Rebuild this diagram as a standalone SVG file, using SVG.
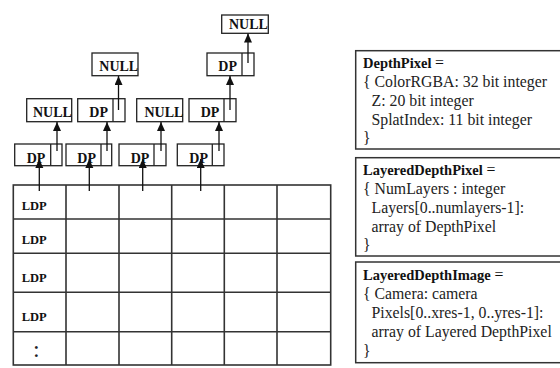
<svg xmlns="http://www.w3.org/2000/svg" width="560" height="368" viewBox="0 0 560 368">
  <style>
    .box { fill: #fff; stroke: #222; stroke-width: 1.3; }
    .div { stroke: #222; stroke-width: 1.3; }
    .lbl { font-family: "Liberation Serif", "Times New Roman", serif; font-weight: bold; font-size: 14px; fill: #111; }
    .grid { fill: none; stroke: #333; stroke-width: 1.6; }
    .ldp { font-family: "Liberation Serif", "Times New Roman", serif; font-weight: bold; font-size: 12.5px; fill: #111; }
    .conn { stroke: #111; stroke-width: 1.3; fill: none; marker-end: url(#head); }
    .panel { fill: #fff; stroke: #333; stroke-width: 1.5; }
    .title { font-family: "Liberation Serif", "Times New Roman", serif; font-weight: bold; font-size: 14.5px; fill: #111; }
    .body { font-family: "Liberation Serif", "Times New Roman", serif; font-size: 15.8px; fill: #222; }
  </style>
  <defs>
    <marker id="head" markerUnits="userSpaceOnUse" markerWidth="9" markerHeight="9" refX="9" refY="4" orient="auto">
      <path d="M0,0 L9,4 L0,8 Z" fill="#111"/>
    </marker>
  </defs>

  <rect width="560" height="368" fill="#fff"/>

  <!-- layered depth image grid -->
  <g id="ldi-grid">
    <rect class="grid" x="13.3" y="185" width="317.4" height="180"/>
    <path class="grid" d="M66,185V365 M119,185V365 M171.7,185V365 M224.3,185V365 M277,185V365
                          M13.3,219H330.7 M13.3,253.3H330.7 M13.3,292.3H330.7 M13.3,331.7H330.7"/>
    <text class="ldp" x="21.7" y="210">LDP</text>
    <text class="ldp" x="21.7" y="244">LDP</text>
    <text class="ldp" x="21.7" y="281.5">LDP</text>
    <text class="ldp" x="21.7" y="320.5">LDP</text>
    <text x="33" y="357" font-family="Liberation Serif, serif" font-size="24" fill="#222">:</text>
  </g>

  <!-- first layer of depth pixels -->
  <g id="dp-1a">
    <rect class="box" x="14.7" y="144" width="47.3" height="21.7"/>
    <line class="div" x1="50.7" y1="144" x2="50.7" y2="165.7"/>
    <text class="lbl" x="26.7" y="162.5">DP</text>
  </g>
  <g id="dp-1b">
    <rect class="box" x="66" y="144" width="45.7" height="21.7"/>
    <line class="div" x1="101" y1="144" x2="101" y2="165.7"/>
    <text class="lbl" x="77.3" y="162.5">DP</text>
  </g>
  <g id="dp-1c">
    <rect class="box" x="119" y="144" width="47" height="21.7"/>
    <line class="div" x1="154" y1="144" x2="154" y2="165.7"/>
    <text class="lbl" x="130.7" y="162.5">DP</text>
  </g>
  <g id="dp-1d">
    <rect class="box" x="177.3" y="144" width="46.7" height="21.7"/>
    <line class="div" x1="212.3" y1="144" x2="212.3" y2="165.7"/>
    <text class="lbl" x="189.3" y="162.5">DP</text>
  </g>

  <!-- second layer -->
  <g id="null-2a">
    <rect class="box" x="26.7" y="98.7" width="45" height="23"/>
    <text class="lbl" x="33" y="117">NULL</text>
  </g>
  <g id="dp-2b">
    <rect class="box" x="77.7" y="98.7" width="47.3" height="23"/>
    <line class="div" x1="113" y1="98.7" x2="113" y2="121.7"/>
    <text class="lbl" x="89.3" y="117">DP</text>
  </g>
  <g id="null-2c">
    <rect class="box" x="136.7" y="98.7" width="46" height="23"/>
    <text class="lbl" x="144.5" y="117">NULL</text>
  </g>
  <g id="dp-2d">
    <rect class="box" x="189" y="98.7" width="47" height="23"/>
    <line class="div" x1="224" y1="98.7" x2="224" y2="121.7"/>
    <text class="lbl" x="200.7" y="117">DP</text>
  </g>

  <!-- third layer -->
  <g id="null-3b">
    <rect class="box" x="92" y="53" width="46" height="22.7"/>
    <text class="lbl" x="99.3" y="71">NULL</text>
  </g>
  <g id="dp-3d">
    <rect class="box" x="207" y="53" width="47" height="22.7"/>
    <line class="div" x1="242" y1="53" x2="242" y2="75.7"/>
    <text class="lbl" x="218.3" y="71">DP</text>
  </g>

  <!-- fourth layer -->
  <g id="null-4d">
    <rect class="box" x="221.7" y="15" width="46.6" height="18.3"/>
    <text class="lbl" x="229" y="28.5">NULL</text>
  </g>

  <!-- pointers -->
  <g id="connectors">
    <line class="conn" x1="39.3" y1="191" x2="39.3" y2="159"/>
    <line class="conn" x1="89.3" y1="191" x2="89.3" y2="159"/>
    <line class="conn" x1="142.7" y1="191" x2="142.7" y2="159"/>
    <line class="conn" x1="200.7" y1="191" x2="200.7" y2="159"/>
    <line class="conn" x1="57" y1="151" x2="57" y2="122"/>
    <line class="conn" x1="107" y1="151" x2="107" y2="122"/>
    <line class="conn" x1="161" y1="151" x2="161" y2="122"/>
    <line class="conn" x1="219" y1="151" x2="219" y2="122"/>
    <line class="conn" x1="118.5" y1="110" x2="118.5" y2="76"/>
    <line class="conn" x1="230" y1="110" x2="230" y2="76"/>
    <line class="conn" x1="248" y1="63" x2="248" y2="33.5"/>
  </g>

  <!-- type definitions -->
  <g id="def-depthpixel">
    <rect class="panel" x="355.7" y="50.7" width="210" height="98.3"/>
    <text class="title" x="363" y="67.5">DepthPixel <tspan font-weight="normal" font-size="15.8px">=</tspan></text>
    <text class="body" x="363" y="86.5">{ ColorRGBA: 32 bit integer</text>
    <text class="body" x="371.5" y="105.5">Z: 20 bit integer</text>
    <text class="body" x="371.5" y="124.5">SplatIndex: 11 bit integer</text>
    <text class="body" x="363" y="142.5">}</text>
  </g>
  <g id="def-layereddepthpixel">
    <rect class="panel" x="355.7" y="157.7" width="210" height="98.3"/>
    <text class="title" x="363" y="174.5">LayeredDepthPixel <tspan font-weight="normal" font-size="15.8px">=</tspan></text>
    <text class="body" x="363" y="193.5">{ NumLayers : integer</text>
    <text class="body" x="371.5" y="212.5">Layers[0..numlayers-1]:</text>
    <text class="body" x="371.5" y="231.5">array of DepthPixel</text>
    <text class="body" x="363" y="249.5">}</text>
  </g>
  <g id="def-layereddepthimage">
    <rect class="panel" x="355.7" y="262" width="210" height="100.7"/>
    <text class="title" x="363" y="279.5">LayeredDepthImage <tspan font-weight="normal" font-size="15.8px">=</tspan></text>
    <text class="body" x="363" y="298.5">{ Camera: camera</text>
    <text class="body" x="371.5" y="317.5">Pixels[0..xres-1, 0..yres-1]:</text>
    <text class="body" x="371.5" y="336.5">array of Layered DepthPixel</text>
    <text class="body" x="363" y="355.5">}</text>
  </g>
</svg>
